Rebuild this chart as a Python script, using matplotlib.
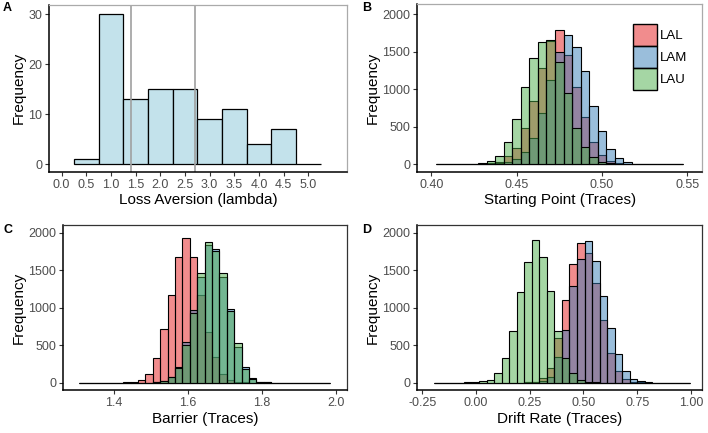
import numpy as np
import matplotlib
matplotlib.use("Agg")
import matplotlib.pyplot as plt
from matplotlib.patches import Patch

plt.rcParams['font.family'] = ['Liberation Sans', 'DejaVu Sans']

# Panel A: loss aversion histogram
la_centers = [0.5, 1.0, 1.5, 2.0, 2.5, 3.0, 3.5, 4.0, 4.5, 5.0]
la_counts = [1, 30, 13, 15, 15, 9, 11, 4, 7, 0]
la_lines = [1.40, 2.70]

groups = ['LAL', 'LAM', 'LAU']
group_colors = ['#E41A1C', '#377EB8', '#4DAF4A']

# Panel B: starting point (29 bins)
sp_start, sp_width = 0.4025, 0.005
sp_lal = [0, 0, 0, 0, 3, 10, 15, 35, 110, 222, 480, 849, 1280, 1650, 1790,
          1457, 1027, 626, 302, 130, 44, 15, 5, 0, 0, 0, 0, 0, 0]
sp_lam = [0, 0, 0, 0, 0, 3, 8, 15, 30, 67, 169, 356, 680, 1124, 1500,
          1724, 1568, 1240, 781, 444, 204, 80, 31, 10, 3, 0, 0, 0, 0]
sp_lau = [0, 0, 0, 3, 8, 18, 40, 111, 302, 604, 1027, 1413, 1635, 1660, 1360,
          947, 480, 235, 102, 35, 15, 5, 0, 0, 0, 0, 0, 0, 0]

# Panel C: barrier (34 bins)
ba_start, ba_width = 1.305, 0.02
ba_lal = [0, 0, 0, 0, 0, 2, 5, 13, 36, 111, 324, 720, 1164, 1680, 1924, 1675, 1170,
          680, 338, 115, 40, 12, 3, 0, 0, 0, 0, 0, 0, 0, 0, 0, 0, 0]
ba_lam = [0, 0, 0, 0, 0, 0, 0, 0, 0, 0, 5, 20, 75, 213, 540, 965, 1413,
          1830, 1785, 1410, 980, 480, 209, 60, 15, 4, 0, 0, 0, 0, 0, 0, 0, 0]
ba_lau = [0, 0, 0, 0, 0, 0, 0, 0, 0, 0, 4, 18, 70, 200, 500, 935, 1458,
          1870, 1755, 1458, 955, 525, 180, 55, 15, 4, 0, 0, 0, 0, 0, 0, 0, 0]

# Panel D: drift rate (34 bins)
dr_start, dr_width = -0.195, 0.035
dr_lal = [0, 0, 0, 0, 0, 0, 0, 0, 0, 0, 0, 0, 5, 15, 60, 200, 592,
          1102, 1585, 1862, 1733, 1333, 836, 391, 150, 45, 15, 4, 0, 0, 0, 0, 0, 0]
dr_lam = [0, 0, 0, 0, 0, 0, 0, 0, 0, 0, 0, 0, 3, 10, 25, 80, 339,
          700, 1290, 1650, 1889, 1622, 1160, 733, 378, 156, 53, 22, 6, 2, 0, 0, 0, 0]
dr_lau = [0, 0, 0, 0, 3, 8, 20, 36, 125, 333, 693, 1205, 1610, 1900, 1670, 1222, 683,
          333, 125, 40, 12, 3, 0, 0, 0, 0, 0, 0, 0, 0, 0, 0, 0, 0]

W, H = 708, 433
fig = plt.figure(figsize=(W / 100, H / 100), dpi=100)


def rect(l, r, t, b):
    return [l / W, 1 - b / H, (r - l) / W, (b - t) / H]


def style(ax, border):
    for s in ['left', 'bottom']:
        ax.spines[s].set_color('black')
        ax.spines[s].set_linewidth(1.1)
    for s in ['top', 'right']:
        ax.spines[s].set_color(border)
        ax.spines[s].set_linewidth(0.9)
    ax.tick_params(axis='both', labelsize=9, labelcolor='#4D4D4D',
                   color='#333333', length=3, width=0.8, pad=2)
    ax.set_ylabel('Frequency', fontsize=11, labelpad=2)


def overlay(ax, start, width, series):
    n = len(series[0])
    edges = start + width * np.arange(n)
    for vals, col in zip(series, group_colors):
        ax.bar(edges, vals, width=width, align='edge',
               facecolor=matplotlib.colors.to_rgba(col, 0.5),
               edgecolor='black', linewidth=0.8)


# A
axA = fig.add_axes(rect(49.3, 346.7, 5, 171.7))
axA.bar(la_centers, la_counts, width=0.5, facecolor='#C3E2EB',
        edgecolor='black', linewidth=0.9)
for v in la_lines:
    axA.axvline(v, color='#A0A0A0', linewidth=1.2)
axA.set_xlim(-0.251, 5.78)
axA.set_ylim(-1.48, 31.86)
axA.set_xticks(np.arange(0, 5.01, 0.5))
axA.set_xticklabels(['%.1f' % t for t in np.arange(0, 5.01, 0.5)])
axA.set_yticks([0, 10, 20, 30])
axA.set_xlabel('Loss Aversion (lambda)', fontsize=11, labelpad=2)
style(axA, '#AAAAAA')

# B
axB = fig.add_axes(rect(417.3, 702.3, 4, 171.7))
overlay(axB, sp_start, sp_width, [sp_lal, sp_lam, sp_lau])
axB.set_xlim(0.3918, 0.5588)
axB.set_ylim(-99, 2137)
axB.set_xticks([0.40, 0.45, 0.50, 0.55])
axB.set_xticklabels(['0.40', '0.45', '0.50', '0.55'])
axB.set_yticks([0, 500, 1000, 1500, 2000])
axB.set_xlabel('Starting Point (Traces)', fontsize=11, labelpad=2)
style(axB, '#AAAAAA')
handles = [Patch(facecolor=matplotlib.colors.to_rgba(c, 0.5), edgecolor='black',
                 linewidth=1.0) for c in group_colors]
axB.legend(handles, groups, loc='upper left', bbox_to_anchor=(0.757, 0.88),
           frameon=False, fontsize=9.5, handlelength=1.8, handleheight=2.2,
           labelspacing=0.0, handletextpad=0.25, borderpad=0, borderaxespad=0)

# C
axC = fig.add_axes(rect(63.3, 346.7, 225.3, 390))
overlay(axC, ba_start, ba_width, [ba_lal, ba_lam, ba_lau])
axC.set_xlim(1.263, 2.029)
axC.set_ylim(-97, 2099)
axC.set_xticks([1.4, 1.6, 1.8, 2.0])
axC.set_xticklabels(['1.4', '1.6', '1.8', '2.0'])
axC.set_yticks([0, 500, 1000, 1500, 2000])
axC.set_xlabel('Barrier (Traces)', fontsize=11, labelpad=2)
style(axC, '#333333')

# D
axD = fig.add_axes(rect(417.3, 702.3, 225.3, 390))
overlay(axD, dr_start, dr_width, [dr_lal, dr_lam, dr_lau])
axD.set_xlim(-0.273, 1.053)
axD.set_ylim(-97, 2099)
axD.set_xticks([-0.25, 0.0, 0.25, 0.50, 0.75, 1.00])
axD.set_xticklabels(['-0.25', '0.00', '0.25', '0.50', '0.75', '1.00'])
axD.set_yticks([0, 500, 1000, 1500, 2000])
axD.set_xlabel('Drift Rate (Traces)', fontsize=11, labelpad=2)
style(axD, '#333333')

# panel letters
for lab, x, y in [('A', 3, 11), ('B', 362, 11), ('C', 3, 233), ('D', 362, 233)]:
    fig.text(x / W, 1 - y / H, lab, fontsize=9, fontweight='bold', va='baseline')

fig.savefig('out.png', dpi=100)
